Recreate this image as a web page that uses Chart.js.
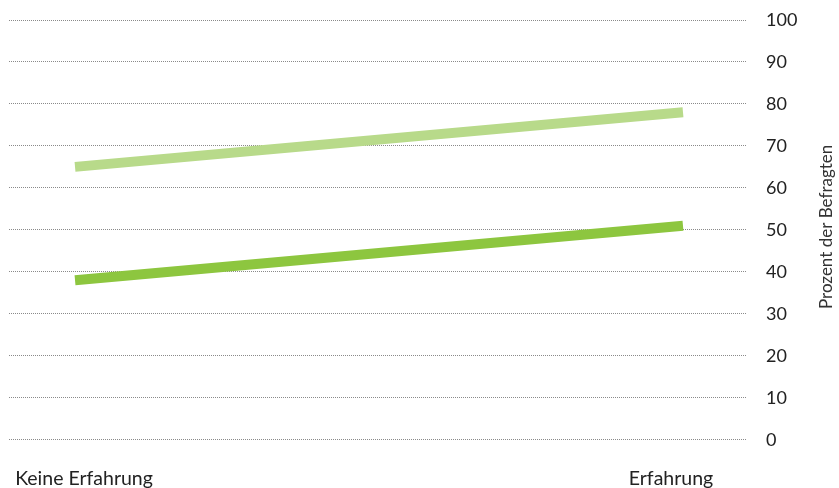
<!DOCTYPE html>
<html>
<head>
<meta charset="utf-8">
<script src="https://cdn.jsdelivr.net/npm/chart.js@4"></script>
<style>
  html, body { margin: 0; padding: 0; background: #ffffff; }
  #wrap { width: 839px; height: 488px; position: relative; }
</style>
</head>
<body>
<div id="wrap"><canvas id="c"></canvas></div>
<script>
const categories = ['Keine Erfahrung', 'Erfahrung'];
const seriesLight = [65, 78];
const seriesDark = [38, 51];
const yTicks = [0, 10, 20, 30, 40, 50, 60, 70, 80, 90, 100];
const yTitle = 'Prozent der Befragten';

const FONT = 'Lato, "Open Sans", sans-serif';

const titlePlugin = {
  id: 'rightTitle',
  afterDraw(chart) {
    const ctx = chart.ctx;
    const area = chart.chartArea;
    ctx.save();
    ctx.font = '17px ' + FONT;
    ctx.fillStyle = '#333333';
    ctx.textAlign = 'center';
    ctx.textBaseline = 'middle';
    ctx.translate(827, (area.top + area.bottom) / 2 - 3);
    ctx.rotate(-Math.PI / 2);
    ctx.fillText(yTitle, 0, 0);
    ctx.restore();
  }
};

new Chart(document.getElementById('c'), {
  type: 'line',
  data: {
    datasets: [
      {
        data: seriesLight.map((v, i) => ({ x: i, y: v })),
        borderColor: '#b8da8a',
        borderWidth: 10,
        borderCapStyle: 'butt',
        pointRadius: 0,
        tension: 0
      },
      {
        data: seriesDark.map((v, i) => ({ x: i, y: v })),
        borderColor: '#8dc63f',
        borderWidth: 10,
        borderCapStyle: 'butt',
        pointRadius: 0,
        tension: 0
      }
    ]
  },
  options: {
    responsive: true,
    maintainAspectRatio: false,
    animation: false,
    layout: { padding: { top: 20, left: 9, right: 0, bottom: 0 } },
    plugins: { legend: { display: false }, tooltip: { enabled: false } },
    scales: {
      x: {
        type: 'linear',
        display: false,
        min: -0.1086,
        max: 1.1053
      },
      xLabels: {
        type: 'linear',
        position: 'bottom',
        min: -0.1278,
        max: 1.1295,
        afterBuildTicks(scale) {
          scale.ticks = categories.map((_, i) => ({ value: i }));
        },
        afterFit(scale) {
          scale.height = 48.3;
          scale.paddingLeft = 0;
          scale.paddingRight = 0;
        },
        grid: { display: false, drawTicks: false },
        border: { display: false },
        ticks: {
          autoSkip: false,
          maxRotation: 0,
          padding: 27,
          color: '#222222',
          font: { family: FONT, size: 19.5 },
          callback: (v) => categories[v]
        }
      },
      y: {
        position: 'right',
        min: 0,
        max: 100,
        afterBuildTicks(scale) {
          scale.ticks = yTicks.map(v => ({ value: v }));
        },
        afterFit(scale) {
          scale.width = 92;
          scale.paddingTop = 0;
          scale.paddingBottom = 0;
        },
        grid: {
          color: '#8a8a8a',
          lineWidth: 1,
          drawTicks: false
        },
        border: { display: false, dash: [1, 1] },
        ticks: {
          padding: 19,
          color: '#222222',
          font: { family: FONT, size: 18 }
        }
      }
    }
  },
  plugins: [titlePlugin]
});
</script>
</body>
</html>
